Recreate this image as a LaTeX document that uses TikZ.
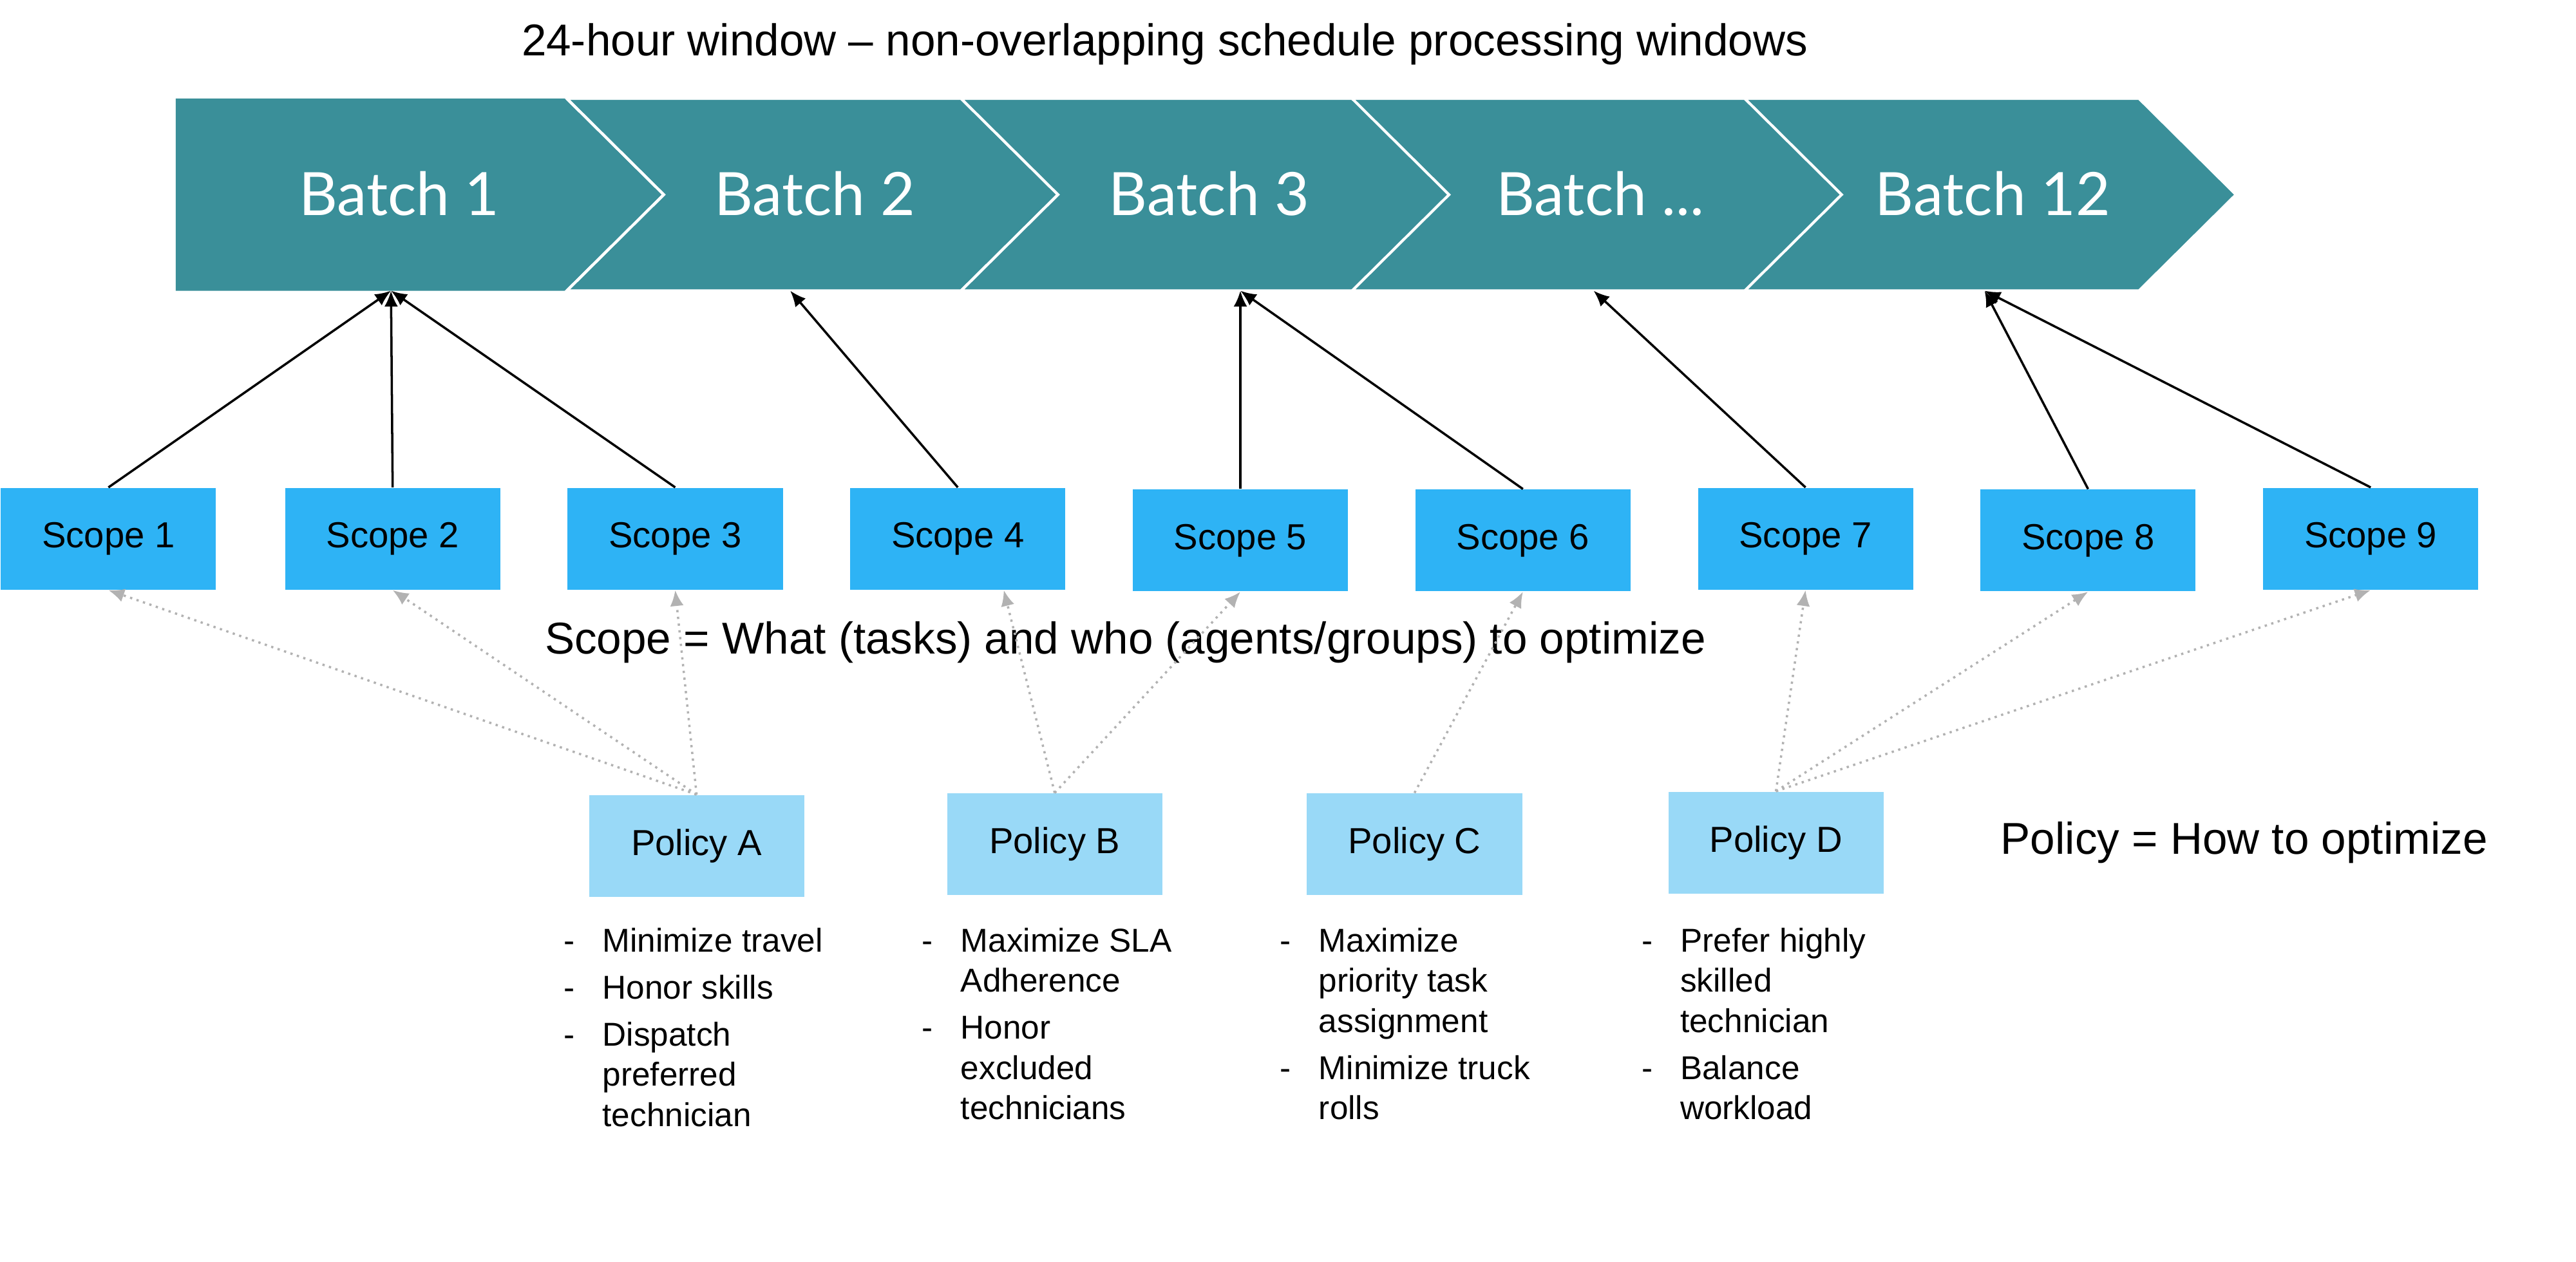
\documentclass[tikz,border=0pt]{standalone}
\usepackage{fontspec}
\setmainfont{Liberation Sans}
\newfontfamily\batchfont{Lato}
\usetikzlibrary{arrows.meta}
\definecolor{teal1}{HTML}{3A8F99}
\definecolor{scopec}{HTML}{2EB3F5}
\definecolor{polc}{HTML}{99D9F7}
\begin{document}
\begin{tikzpicture}[x=0.02551cm,y=-0.02551cm,
  chev/.style={fill=teal1,draw=white,line width=1.2pt},
  blabel/.style={text=white,font=\batchfont\fontsize{26.4}{30}\selectfont},
  scope/.style={fill=scopec,minimum width=131*0.02551cm,minimum height=62*0.02551cm,font=\fontsize{16}{18}\selectfont,inner sep=0},
  policy/.style={fill=polc,minimum width=131*0.02551cm,minimum height=62*0.02551cm,font=\fontsize{16}{18}\selectfont,inner sep=0},
  solidarr/.style={-{Latex[length=7pt,width=6pt]},line width=1pt},
  dotarr/.style={-{Latex[length=7pt,width=6pt]},gray!60,line width=1pt,dotted},
  lbl/.style={font=\fontsize{19.7}{22}\selectfont},
  blist/.style={anchor=north west,inner sep=0,font=\fontsize{14.6}{17.8}\selectfont}]
\useasboundingbox (0,0) rectangle (1568,768);
\node[font=\fontsize{19.7}{22}\selectfont] (title) at (709,27) {24-hour window -- non-overlapping schedule processing windows};
% chevrons
\fill[teal1] (107,60) -- (345,60) -- (404,118.5) -- (345,177) -- (107,177) -- cycle;
\foreach \a in {345,585,823,1062}{
  \draw[chev] (\a,60) -- (\a+240,60) -- (\a+299,118.5) -- (\a+240,177) -- (\a,177) -- (\a+59,118.5) -- cycle;
}
\draw[white,line width=1.2pt] (345,60) -- (404,118.5) -- (345,177);
\node[blabel] (b1) at (243,118) {Batch 1};
\node[blabel] (b2) at (496,118) {Batch 2};
\node[blabel] (b3) at (736,118) {Batch 3};
\node[blabel] (b4) at (974,118) {Batch ...};
\node[blabel] (b12) at (1213,118) {Batch 12};
\coordinate (t1) at (238,177);
\coordinate (t2) at (481,177);
\coordinate (t3) at (755,177);
\coordinate (t4) at (970,177);
\coordinate (t12) at (1208,177);
% scopes
\node[scope] (s1) at (66,328) {Scope 1};
\node[scope] (s2) at (239,328) {Scope 2};
\node[scope] (s3) at (411,328) {Scope 3};
\node[scope] (s4) at (583,328) {Scope 4};
\node[scope] (s5) at (755,329) {Scope 5};
\node[scope] (s6) at (927,329) {Scope 6};
\node[scope] (s7) at (1099,328) {Scope 7};
\node[scope] (s8) at (1271,329) {Scope 8};
\node[scope] (s9) at (1443,328) {Scope 9};
\draw[solidarr] (s1.north) -- (t1);
\draw[solidarr] (s2.north) -- (t1);
\draw[solidarr] (s3.north) -- (t1);
\draw[solidarr] (s4.north) -- (t2);
\draw[solidarr] (s5.north) -- (t3);
\draw[solidarr] (s6.north) -- (t3);
\draw[solidarr] (s7.north) -- (t4);
\draw[solidarr] (s8.north) -- (t12);
\draw[solidarr] (s9.north) -- (t12);
\node[lbl] (scopelbl) at (685,391) {Scope = What (tasks) and who (agents/groups) to optimize};
% policies
\node[policy] (pA) at (424,515) {Policy A};
\node[policy] (pB) at (642,514) {Policy B};
\node[policy] (pC) at (861,514) {Policy C};
\node[policy] (pD) at (1081,513) {Policy D};
\draw[dotarr] (pA.north) -- (s1.south);
\draw[dotarr] (pA.north) -- (s2.south);
\draw[dotarr] (pA.north) -- (s3.south);
\draw[dotarr] (pB.north) -- ([xshift=28*0.02551cm]s4.south);
\draw[dotarr] (pB.north) -- (s5.south);
\draw[dotarr] (pC.north) -- (s6.south);
\draw[dotarr] (pD.north) -- (s7.south);
\draw[dotarr] (pD.north) -- (s8.south);
\draw[dotarr] (pD.north) -- (s9.south);
\node[lbl] (pollbl) at (1366,513) {Policy = How to optimize};
% lists
\node[blist] (lA) at (343,562) {\begin{tabular}{@{}p{0.6cm}@{}p{4cm}@{}}
-& Minimize travel\\[3pt] -& Honor skills\\[3pt] -& Dispatch\newline preferred\newline technician\end{tabular}};
\node[blist] (lB) at (561,562) {\begin{tabular}{@{}p{0.6cm}@{}p{4cm}@{}}
-& Maximize SLA\newline Adherence\\[3pt] -& Honor\newline excluded\newline technicians\end{tabular}};
\node[blist] (lC) at (779,562) {\begin{tabular}{@{}p{0.6cm}@{}p{4cm}@{}}
-& Maximize\newline priority task\newline assignment\\[3pt] -& Minimize truck\newline rolls\end{tabular}};
\node[blist] (lD) at (999,562) {\begin{tabular}{@{}p{0.6cm}@{}p{4cm}@{}}
-& Prefer highly\newline skilled\newline technician\\[3pt] -& Balance\newline workload\end{tabular}};
\end{tikzpicture}
\end{document}
